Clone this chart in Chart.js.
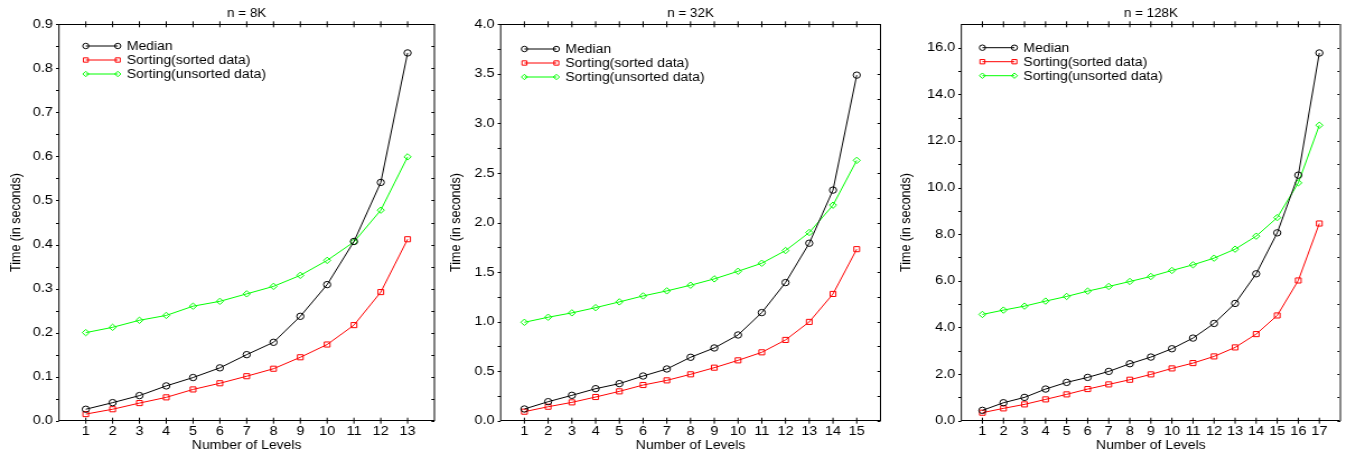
<!DOCTYPE html>
<html>
<head>
<meta charset="utf-8">
<script src="https://cdn.jsdelivr.net/npm/chart.js@4.4.1/dist/chart.umd.min.js"></script>
<style>
  html, body { margin: 0; padding: 0; background: #fff; }
  #wrap { position: relative; width: 1346px; height: 453px; overflow: hidden; }
  canvas { position: absolute; top: 0; }
</style>
</head>
<body>
<div id="wrap">
  <canvas id="c8"></canvas>
  <canvas id="c32"></canvas>
  <canvas id="c128"></canvas>
</div>
<script>
const seriesNames = ["Median", "Sorting(sorted data)", "Sorting(unsorted data)"];

// n = 8K
const levels8 = [1, 2, 3, 4, 5, 6, 7, 8, 9, 10, 11, 12, 13];
const median8 = [0.026, 0.041, 0.057, 0.079, 0.098, 0.120, 0.150, 0.178, 0.237, 0.309, 0.407, 0.541, 0.835];
const sorted8 = [0.015, 0.026, 0.040, 0.053, 0.071, 0.085, 0.101, 0.118, 0.144, 0.173, 0.217, 0.292, 0.412];
const unsorted8 = [0.200, 0.212, 0.228, 0.239, 0.260, 0.271, 0.288, 0.305, 0.330, 0.364, 0.406, 0.478, 0.599];

// n = 32K
const levels32 = [1, 2, 3, 4, 5, 6, 7, 8, 9, 10, 11, 12, 13, 14, 15];
const median32 = [0.118, 0.192, 0.256, 0.323, 0.374, 0.451, 0.522, 0.640, 0.734, 0.865, 1.091, 1.394, 1.791, 2.327, 3.487];
const sorted32 = [0.091, 0.141, 0.185, 0.239, 0.296, 0.360, 0.407, 0.468, 0.535, 0.609, 0.690, 0.815, 0.997, 1.279, 1.731];
const unsorted32 = [0.993, 1.044, 1.088, 1.141, 1.199, 1.259, 1.310, 1.367, 1.431, 1.508, 1.589, 1.717, 1.899, 2.175, 2.627];

// n = 128K
const levels128 = [1, 2, 3, 4, 5, 6, 7, 8, 9, 10, 11, 12, 13, 14, 15, 16, 17];
const median128 = [0.443, 0.771, 1.000, 1.357, 1.643, 1.857, 2.114, 2.443, 2.729, 3.086, 3.543, 4.171, 5.029, 6.300, 8.057, 10.53, 15.77];
const sorted128 = [0.343, 0.529, 0.700, 0.914, 1.129, 1.357, 1.557, 1.757, 1.986, 2.243, 2.471, 2.757, 3.143, 3.714, 4.514, 6.014, 8.457];
const unsorted128 = [4.557, 4.743, 4.914, 5.129, 5.329, 5.557, 5.757, 5.971, 6.186, 6.443, 6.686, 6.971, 7.357, 7.914, 8.710, 10.20, 12.67];

// the original picture is stretched sideways, so each canvas is drawn narrow and widened by css
const STRETCH = 1.12;
const FONT = '"Liberation Sans", Arial, sans-serif';
const H = 453;

const looks = [
  { color: "#000000", pointStyle: "circle", radius: 3.2 },
  { color: "#ff0000", pointStyle: "rect", radius: 3.6 },
  { color: "#00ff00", pointStyle: "rectRot", radius: 3.2 },
];

// gnuplot-like box, tick marks and legend
const framePlugin = {
  id: "frame",
  afterDatasetsDraw(chart, args, opts) {
    const { ctx, chartArea: a, scales: { x, y } } = chart;
    const tk = 3 / STRETCH;
    ctx.save();
    ctx.strokeStyle = "#000";
    ctx.lineWidth = 1;
    ctx.beginPath();
    x.ticks.forEach(t => {
      if (t.value < 1 || t.value > x.max - 1) return;
      const px = x.getPixelForValue(t.value);
      ctx.moveTo(px, a.bottom - 3); ctx.lineTo(px, a.bottom + 3);
      ctx.moveTo(px, a.top - 3); ctx.lineTo(px, a.top + 3);
    });
    const vals = y.ticks.map(t => t.value);
    const marks = [];
    vals.forEach((v, i) => {
      marks.push(v);
      if (i < vals.length - 1) marks.push((v + vals[i + 1]) / 2);
    });
    marks.forEach(v => {
      const py = Math.round(y.getPixelForValue(v)) + 0.5;
      ctx.moveTo(a.left - tk, py); ctx.lineTo(a.left, py);
      ctx.moveTo(a.right - tk, py); ctx.lineTo(a.right, py);
    });
    ctx.stroke();
    ctx.strokeRect(a.left, Math.round(a.top) + 0.5, a.width, Math.round(a.height));
    if (opts.rightColor) {
      ctx.strokeStyle = opts.rightColor;
      ctx.lineWidth = 2;
      ctx.beginPath();
      ctx.moveTo(a.right, a.top); ctx.lineTo(a.right, a.bottom);
      ctx.stroke();
    }

    // legend
    const x0 = x.getPixelForValue(1);
    const x1 = x0 + 32 / STRETCH;
    ctx.font = "12.5px " + FONT;
    ctx.textBaseline = "middle";
    ctx.textAlign = "left";
    chart.data.datasets.forEach((ds, i) => {
      const ly = opts.legendY + i * 14;
      ctx.strokeStyle = ds.borderColor;
      ctx.fillStyle = "rgba(0,0,0,0)";
      ctx.lineWidth = 1;
      ctx.beginPath();
      ctx.moveTo(x0, ly); ctx.lineTo(x1, ly);
      ctx.stroke();
      const p = { pointStyle: ds.pointStyle, radius: ds.pointRadius * 0.85, rotation: 0, borderWidth: 1 };
      Chart.helpers.drawPoint(ctx, p, x0, ly);
      Chart.helpers.drawPoint(ctx, p, x1, ly);
      ctx.fillStyle = "#000";
      ctx.fillText(ds.label, x1 + 9 / STRETCH, ly + 0.5);
    });
    ctx.restore();
  }
};

function makeChart(id, cssLeft, cssWidth, cfg) {
  const canvas = document.getElementById(id);
  const w = Math.round(cssWidth / STRETCH);
  canvas.width = w;
  canvas.height = H;
  canvas.style.left = cssLeft + "px";
  canvas.style.width = (w * STRETCH) + "px";
  canvas.style.height = H + "px";

  const plotLeft = (cfg.plotLeft - cssLeft) / STRETCH;
  const plotRight = (cfg.plotRight - cssLeft) / STRETCH;
  const last = cfg.levels.length;

  const datasets = cfg.series.map((vals, i) => ({
    label: seriesNames[i],
    data: cfg.levels.map((lv, j) => ({ x: lv, y: vals[j] })),
    borderColor: looks[i].color,
    backgroundColor: "rgba(0,0,0,0)",
    borderWidth: 1,
    pointStyle: looks[i].pointStyle,
    pointRadius: looks[i].radius,
    pointBorderWidth: 1,
    pointBorderColor: looks[i].color,
    pointBackgroundColor: "rgba(0,0,0,0)",
    tension: 0,
  }));

  return new Chart(canvas.getContext("2d"), {
    type: "line",
    data: { datasets },
    options: {
      responsive: false,
      devicePixelRatio: 1,
      animation: false,
      events: [],
      layout: { padding: { left: 0, right: w - plotRight, top: 0, bottom: 0 } },
      plugins: {
        legend: { display: false },
        tooltip: { enabled: false },
        title: {
          display: true,
          text: cfg.title,
          fullSize: false,
          color: "#000",
          font: { family: FONT, size: 12, weight: "normal" },
          padding: { top: 6, bottom: 3.9 },
        },
        frame: { legendY: cfg.legendY, rightColor: cfg.rightColor },
      },
      scales: {
        x: {
          type: "linear",
          min: 0,
          max: last + 1,
          grid: { display: false, drawTicks: false },
          border: { display: false },
          afterFit: s => { s.height = 32.3; },
          ticks: {
            stepSize: 1,
            autoSkip: false,
            maxRotation: 0,
            padding: 3,
            color: "#000",
            font: { family: FONT, size: 13 },
            callback: v => (v >= 1 && v <= last ? String(v) : ""),
          },
          title: {
            display: true,
            text: "Number of Levels",
            color: "#000",
            font: { family: FONT, size: 12.5 },
            padding: { top: 0, bottom: 0.3 },
          },
        },
        y: {
          min: 0,
          max: cfg.yMax,
          grid: { display: false, drawTicks: false },
          border: { display: false },
          afterFit: s => { s.width = plotLeft; },
          ticks: {
            stepSize: cfg.yStep,
            includeBounds: false,
            padding: 6 / STRETCH,
            color: "#000",
            font: { family: FONT, size: 13 },
            callback: v => Number(v).toFixed(1),
          },
          title: {
            display: true,
            text: "Time (in seconds)",
            color: "#000",
            font: { family: FONT, size: 12.5 },
            padding: { top: 6.8, bottom: 0 },
          },
        },
      },
    },
    plugins: [framePlugin],
  });
}

makeChart("c8", 0, 440, {
  title: "n = 8K", levels: levels8, series: [median8, sorted8, unsorted8],
  yMax: 0.9, yStep: 0.1, plotLeft: 59, plotRight: 438, legendY: 46,
});
makeChart("c32", 440, 450, {
  title: "n = 32K", levels: levels32, series: [median32, sorted32, unsorted32],
  yMax: 4.0, yStep: 0.5, plotLeft: 500.7, plotRight: 880.7, legendY: 49,
});
makeChart("c128", 890, 456, {
  title: "n = 128K", levels: levels128, series: [median128, sorted128, unsorted128],
  yMax: 17, yStep: 2, plotLeft: 961.3, plotRight: 1340.7, legendY: 47.7, rightColor: "#888",
});
</script>
</body>
</html>
